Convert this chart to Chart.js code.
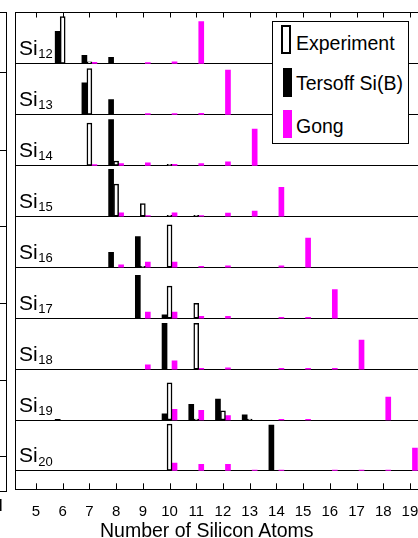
<!DOCTYPE html>
<html>
<head>
<meta charset="utf-8">
<script src="https://cdn.jsdelivr.net/npm/chart.js@4.4.1/dist/chart.umd.min.js"></script>
<style>
  body { margin: 0; overflow: hidden; background: #fff; }
  #wrap { position: relative; width: 418px; height: 538px; overflow: hidden; font-family: "Liberation Sans", Arial, sans-serif; }
  #chart { position: absolute; left: 0; top: 0; }
  #legend { position: absolute; left: 272px; top: 21px; width: 137px; height: 123px; box-sizing: border-box;
            border: 1px solid #000; background: #fff; font-size: 19.5px; line-height: 19.5px; }
  #legend .sym { position: absolute; box-sizing: border-box; }
  #legend .txt { position: absolute; left: 23px; white-space: nowrap; }
  #xtitle { position: absolute; left: 100px; top: 521px; font-size: 19.5px; line-height: 19.5px; white-space: nowrap; }
</style>
</head>
<body>
<div id="wrap">
  <canvas id="chart" width="424" height="538"></canvas>
  <div id="legend">
    <div class="sym" style="left:8px;top:3px;width:10px;height:29px;border:2px solid #000;background:#fff"></div>
    <div class="txt" style="top:12px">Experiment</div>
    <div class="sym" style="left:10px;top:46px;width:9px;height:29px;background:#000"></div>
    <div class="txt" style="top:52px">Tersoff Si(B)</div>
    <div class="sym" style="left:10px;top:88px;width:9px;height:28px;background:#ff00ff"></div>
    <div class="txt" style="top:95px">Gong</div>
  </div>
  <div id="xtitle">Number of Silicon Atoms</div>
</div>
<script>
// cluster sizes, one panel each (Si12 on top)
const clusters = [12, 13, 14, 15, 16, 17, 18, 19, 20];
const xTicks = [5, 6, 7, 8, 9, 10, 11, 12, 13, 14, 15, 16, 17, 18, 19];

// [number of atoms, relative height (1 = full panel)] per panel
const experiment = [
  [[6, 0.92], [7, 0.03]],
  [[7, 0.90]],
  [[7, 0.83], [8, 0.085], [10, 0.02]],
  [[8, 0.63], [9, 0.25], [10, 0.02], [11, 0.02]],
  [[9, 0.015], [10, 0.83]],
  [[10, 0.63], [11, 0.29]],
  [[11, 0.90]],
  [[10, 0.73], [11, 0.02], [12, 0.18], [13, 0.02]],
  [[10, 0.92]]
];
const tersoff = [
  [[6, 0.63], [7, 0.16], [8, 0.12]],
  [[7, 0.62], [8, 0.29]],
  [[8, 0.90]],
  [[8, 0.92]],
  [[8, 0.29], [9, 0.60]],
  [[9, 0.84], [10, 0.065]],
  [[10, 0.90]],
  [[6, 0.015], [10, 0.12], [11, 0.31], [12, 0.41], [13, 0.10]],
  [[14, 0.90]]
];
const gong = [
  [[7, 0.02], [9, 0.015], [10, 0.03], [11, 0.82]],
  [[9, 0.015], [10, 0.015], [11, 0.02], [12, 0.87]],
  [[7, 0.015], [8, 0.035], [9, 0.05], [10, 0.02], [11, 0.035], [12, 0.07], [13, 0.71]],
  [[8, 0.065], [9, 0.015], [10, 0.065], [11, 0.015], [12, 0.06], [13, 0.10], [14, 0.57]],
  [[8, 0.045], [9, 0.10], [10, 0.10], [11, 0.015], [12, 0.025], [14, 0.025], [15, 0.57]],
  [[9, 0.12], [10, 0.12], [11, 0.035], [12, 0.035], [14, 0.015], [15, 0.015], [16, 0.56]],
  [[9, 0.085], [10, 0.16], [11, 0.015], [12, 0.025], [14, 0.015], [15, 0.015], [16, 0.015], [17, 0.57]],
  [[10, 0.21], [11, 0.19], [12, 0.085], [14, 0.015], [15, 0.015], [18, 0.45]],
  [[10, 0.155], [11, 0.13], [12, 0.13], [13, 0.015], [14, 0.015], [16, 0.015], [17, 0.015], [18, 0.015], [19, 0.45]]
];

const FONT = '"Liberation Sans", Arial, sans-serif';

// every panel sits on its own baseline: Si12 -> 8 ... Si20 -> 0
function toBars(series) {
  const out = [];
  series.forEach((panel, p) => {
    const base = clusters.length - 1 - p;
    panel.forEach(([n, h]) => out.push({ x: n, y: [base, base + h] }));
  });
  return out;
}

// Si_n labels in each panel
const panelLabels = {
  id: 'panelLabels',
  afterDatasetsDraw(chart) {
    const { ctx, scales: { y } } = chart;
    ctx.save();
    ctx.fillStyle = '#000';
    clusters.forEach((n, p) => {
      const base = y.getPixelForValue(clusters.length - 1 - p);
      ctx.font = '21px ' + FONT;
      ctx.fillText('Si', 19, base - 8.5);
      const w = ctx.measureText('Si').width;
      ctx.font = '13px ' + FONT;
      ctx.fillText(String(n), 19 + w + 0.5, base - 5);
    });
    ctx.restore();
  }
};

// inward ticks on top and bottom frame
const frameTicks = {
  id: 'frameTicks',
  afterDraw(chart) {
    const { ctx, chartArea: a, scales: { x } } = chart;
    ctx.save();
    ctx.strokeStyle = '#000';
    ctx.lineWidth = 1;
    ctx.beginPath();
    xTicks.forEach(v => {
      const px = Math.round(x.getPixelForValue(v)) + 0.5;
      ctx.moveTo(px, a.bottom); ctx.lineTo(px, a.bottom - 6);
      ctx.moveTo(px, a.top); ctx.lineTo(px, a.top + 5);
    });
    ctx.stroke();
    ctx.restore();
  }
};

// edge of the neighbouring figure, cut by the crop
const neighbourEdge = {
  id: 'neighbourEdge',
  afterDraw(chart) {
    const ctx = chart.ctx;
    ctx.save();
    ctx.strokeStyle = '#000';
    ctx.lineWidth = 1;
    ctx.beginPath();
    [12.5, 72.5, 150.5, 226.5, 303.5, 380.5, 456.5, 491.5].forEach(yy => { ctx.moveTo(0, yy); ctx.lineTo(7, yy); });
    ctx.moveTo(6.5, 12.5); ctx.lineTo(6.5, 491.5);
    ctx.stroke();
    ctx.fillStyle = '#000';
    ctx.fillRect(0, 499, 1.5, 12);
    ctx.restore();
  }
};

new Chart(document.getElementById('chart'), {
  type: 'bar',
  data: {
    // order matters: grouping puts Tersoff left, Experiment centre, Gong right
    datasets: [
      { label: 'Tersoff Si(B)', data: toBars(tersoff), backgroundColor: '#000', borderWidth: 0 },
      { label: 'Experiment', data: toBars(experiment), backgroundColor: '#fff', borderColor: '#000', borderWidth: 1.5, borderSkipped: false },
      { label: 'Gong', data: toBars(gong), backgroundColor: '#ff00ff', borderWidth: 0 }
    ]
  },
  options: {
    responsive: false,
    animation: false,
    layout: { padding: { left: 15, top: 12.5, right: 0, bottom: 11.3 } },
    datasets: { bar: { barThickness: 5, grouped: true } },
    plugins: { legend: { display: false }, tooltip: { enabled: false } },
    scales: {
      x: {
        type: 'linear',
        offset: false,
        min: 4.215,
        max: 19.5,
        afterBuildTicks: s => { s.ticks = xTicks.map(v => ({ value: v })); },
        grid: { display: false },
        border: { display: true, color: '#000', width: 1 },
        ticks: { color: '#000', font: { family: FONT, size: 15 }, padding: 5.7, autoSkip: false, maxRotation: 0 }
      },
      y: {
        type: 'linear',
        min: -0.36,
        max: 9,
        afterBuildTicks: s => { s.ticks = clusters.map((c, i) => ({ value: i })).concat([{ value: clusters.length }]); },
        ticks: { display: false },
        grid: { color: '#000', lineWidth: 1, drawTicks: false },
        border: { display: true, color: '#000', width: 1 }
      }
    }
  },
  plugins: [panelLabels, frameTicks, neighbourEdge]
});
</script>
</body>
</html>
